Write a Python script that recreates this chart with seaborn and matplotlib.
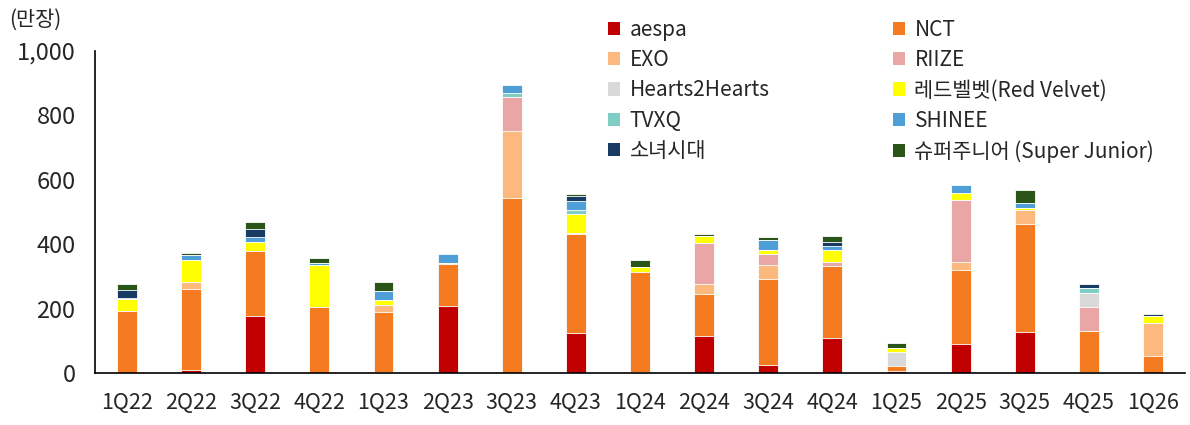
import pandas as pd
import numpy as np
import matplotlib
matplotlib.use('Agg')
import matplotlib.pyplot as plt
import matplotlib.ticker as mticker
from matplotlib.patches import Patch
import seaborn as sns

quarters = ['1Q22', '2Q22', '3Q22', '4Q22', '1Q23', '2Q23', '3Q23', '4Q23', '1Q24',
            '2Q24', '3Q24', '4Q24', '1Q25', '2Q25', '3Q25', '4Q25', '1Q26']

aespa   = [0, 10, 178, 0, 3, 209, 0, 125, 2, 116, 24, 110, 6, 91, 128, 4, 0]
nct     = [193, 252, 200, 205, 187, 129, 544, 306, 313, 130, 269, 223, 17, 228, 336, 127, 53]
exo     = [0, 22, 0, 0, 22, 2, 208, 3, 0, 30, 41, 0, 0, 26, 42, 0, 101]
riize   = [0, 0, 0, 0, 0, 0, 104, 0, 0, 127, 36, 13, 0, 192, 0, 73, 0]
h2h     = [0, 0, 0, 0, 0, 0, 0, 0, 0, 0, 0, 0, 42, 0, 0, 45, 0]
redvelv = [38, 68, 29, 129, 15, 2, 0, 61, 13, 23, 13, 37, 14, 21, 7, 0, 24]
tvxq    = [0, 0, 0, 0, 0, 0, 13, 10, 0, 0, 0, 0, 0, 0, 0, 15, 0]
shinee  = [3, 15, 14, 7, 28, 29, 24, 29, 0, 0, 29, 10, 0, 27, 16, 0, 0]
snsd    = [23, 0, 27, 0, 0, 0, 0, 16, 0, 0, 0, 13, 0, 0, 0, 11, 5]
sj      = [19, 6, 20, 17, 27, 0, 0, 6, 22, 7, 9, 19, 14, 0, 38, 0, 0]

groups = ['aespa', 'NCT', 'EXO', 'RIIZE', 'Hearts2Hearts', '레드벨벳(Red Velvet)',
          'TVXQ', 'SHINEE', '소녀시대', '슈퍼주니어 (Super Junior)']
colors = ['#C00000', '#F47B20', '#FBB97E', '#EAA5A5', '#D9D9D9', '#FFFF00',
          '#7FCDC5', '#4E9ED8', '#183B63', '#2A5418']

df = pd.DataFrame(
    np.array([aespa, nct, exo, riize, h2h, redvelv, tvxq, shinee, snsd, sj]).T,
    columns=groups)
df['quarter'] = quarters
cum = df[groups].cumsum(axis=1)

sns.set_style('white')
plt.rcParams['font.family'] = ['Noto Sans CJK KR', 'DejaVu Sans']

fig = plt.figure(figsize=(11.9, 4.25), dpi=100)
ax = fig.add_axes([0.0798, 0.1224, 0.916, 0.7576])

# draw cumulative totals from top layer down so each lower layer covers the one above
for g, c in zip(reversed(groups), reversed(colors)):
    sns.barplot(x=quarters, y=cum[g].values, color=c, width=0.31,
                edgecolor='white', linewidth=0.6, saturation=1, ax=ax)

ax.set_xlim(-0.5, len(quarters) - 0.5)
ax.set_ylim(0, 1000)
ax.yaxis.set_major_locator(mticker.MultipleLocator(200))
ax.yaxis.set_major_formatter(mticker.FuncFormatter(lambda v, p: f'{int(v):,}'))
ax.set_xticks(range(len(quarters)))
ax.set_xticklabels(quarters)
ax.set_xticks(np.arange(-0.5, len(quarters)), minor=True)
ax.tick_params(axis='x', which='major', length=0, labelsize=15.5, pad=14)
ax.tick_params(axis='x', which='minor', length=6, width=1.2, direction='out', color='black')
ax.tick_params(axis='y', length=6, width=1.2, direction='out', color='black', labelsize=17, pad=8)
ax.set_xlabel('')
ax.set_ylabel('')
for s in ['top', 'right']:
    ax.spines[s].set_visible(False)
for s in ['left', 'bottom']:
    ax.spines[s].set_color('black')
    ax.spines[s].set_linewidth(1.2)

fig.text(0.008, 0.953, '(만장)', fontsize=15, va='center', ha='left')

# legend: two columns, read row-wise
order = [0, 2, 4, 6, 8, 1, 3, 5, 7, 9]
handles = [Patch(facecolor=colors[i], edgecolor='none') for i in order]
labels = [groups[i] for i in order]
fig.legend(handles, labels, ncol=2, loc='upper left', bbox_to_anchor=(0.495, 1.0),
           frameon=False, fontsize=15, handlelength=0.6, handleheight=0.6,
           handletextpad=0.45, columnspacing=5.9, labelspacing=0.4)

fig.savefig('out.png', dpi=100)
